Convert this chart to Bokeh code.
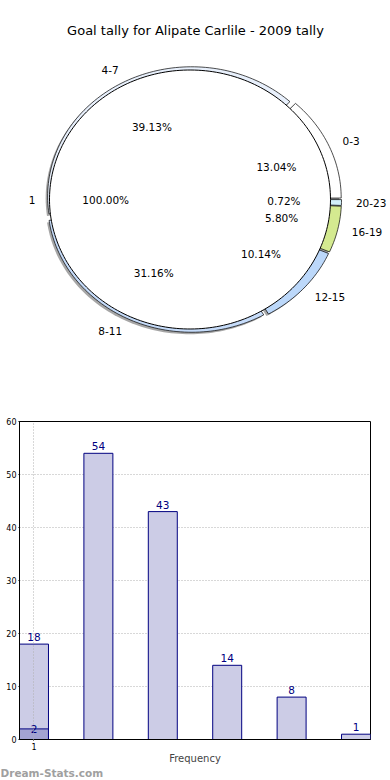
import math
from bokeh.plotting import figure
from bokeh.models import Range1d, FixedTicker
from bokeh.embed import file_html
from bokeh.resources import INLINE
from bokeh.core.properties import value

# ---------------- data ----------------
title_text = "Goal tally for Alipate Carlile - 2009 tally"
outer_labels = ["0-3", "4-7", "8-11", "12-15", "16-19", "20-23"]
outer_values = [18, 54, 43, 14, 8, 1]
outer_colors = ["#ffffff", "#e8f0fc", "#c6dcfa", "#bcd8fa", "#d4ea90", "#d2f0fa"]
inner_labels = ["1"]
inner_values = [138]
inner_colors = ["#ffffff"]

bar_x = [1, 2, 3, 4, 5, 6]
bar_values = [18, 54, 43, 14, 8, 1]
overlay_x = [1]
overlay_values = [2]
y_ticks = [0, 10, 20, 30, 40, 50, 60]
x_ticks = [1]
x_tick_labels = {1: "1"}
x_axis_label = "Frequency"
watermark = "Dream-Stats.com"

FONT = "DejaVu Sans"
W = 390
PIE_H = 400
BAR_H = 366
WM_H = 14

# ---------------- pie figure (pixel-like coordinates, y downwards) ----------------
pie = figure(width=W, height=PIE_H, x_range=Range1d(0, W), y_range=Range1d(PIE_H, 0),
             output_backend="svg", toolbar_location=None, min_border=0,
             x_axis_location=None, y_axis_location=None)
pie.grid.visible = False
pie.outline_line_color = None


def arc(cx, cy, rx, ry, a0, a1):
    n = max(3, int(abs(a1 - a0) / 1.5) + 2)
    xs, ys = [], []
    for i in range(n):
        a = math.radians(a0 + (a1 - a0) * i / (n - 1))
        xs.append(cx + rx * math.cos(a))
        ys.append(cy - ry * math.sin(a))
    return xs, ys


# outer ring geometry
ocx, ocy, orx, ory = 193.0, 199.0, 144.0, 129.5
explode = 0.028
total = sum(outer_values)

wxs, wys, sxs, sys_ = [], [], [], []
label_pos, pct_pos = [], []
start = 0.0
for v in outer_values:
    sweep = 360.0 * v / total
    mid = start + sweep / 2
    m = math.radians(mid)
    ex = ocx + explode * orx * math.cos(m)
    ey = ocy - explode * ory * math.sin(m)
    ax, ay = arc(ex, ey, orx, ory, start, start + sweep)
    xs = [ex] + ax + [ex]
    ys = [ey] + ay + [ey]
    wxs.append(xs)
    wys.append(ys)
    sxs.append([x - 2 for x in xs])
    sys_.append([y + 2 for y in ys])
    lx = ex + 1.1 * orx * math.cos(m)
    ly = ey - 1.1 * ory * math.sin(m)
    label_pos.append((lx, ly, "left" if math.cos(m) >= 0 else "right"))
    pct_pos.append((ex + 0.6 * orx * math.cos(m), ey - 0.6 * ory * math.sin(m)))
    start += sweep

pie.patches(sxs, sys_, fill_color="#000000", fill_alpha=0.35, line_color=None)
pie.patches(wxs, wys, fill_color=outer_colors, line_color="black", line_width=0.7)

# inner pie
icx, icy, irx, iry = 189.5, 199.0, 140.5, 129.5
itotal = sum(inner_values)
ixs, iys = [], []
ilabel, ipct = [], []
start = 0.0
for v in inner_values:
    sweep = 360.0 * v / itotal
    mid = math.radians(start + sweep / 2)
    ax, ay = arc(icx, icy, irx, iry, start, start + sweep)
    if sweep < 360:
        ax = [icx] + ax + [icx]
        ay = [icy] + ay + [icy]
    ixs.append(ax)
    iys.append(ay)
    ilabel.append((icx + 1.1 * irx * math.cos(mid), icy - 1.1 * iry * math.sin(mid),
                   "left" if math.cos(mid) >= 0 else "right"))
    ipct.append((icx + 0.6 * irx * math.cos(mid), icy - 0.6 * iry * math.sin(mid)))
    start += sweep
pie.patches(ixs, iys, fill_color=inner_colors, line_color="black", line_width=1)

# labels
for (lx, ly, al), t in zip(label_pos + ilabel, outer_labels + inner_labels):
    pie.text(x=[lx], y=[ly], text=[t], text_align=al, text_baseline="middle",
             text_font=value(FONT), text_font_size="10.5px", text_color="black")
pct_texts = ["%.2f%%" % (v * 100.0 / total) for v in outer_values] + \
            ["%.2f%%" % (v * 100.0 / itotal) for v in inner_values]
pie.text(x=[p[0] for p in pct_pos + ipct], y=[p[1] for p in pct_pos + ipct], text=pct_texts,
         text_align="center", text_baseline="middle",
         text_font=value(FONT), text_font_size="10.5px", text_color="black")
pie.text(x=[195], y=[30], text=[title_text], text_align="center", text_baseline="middle",
         text_font=value(FONT), text_font_size="13px", text_color="black")

# ---------------- bar figure ----------------
bar = figure(width=W, height=BAR_H, x_range=Range1d(0.775, 6.225), y_range=Range1d(0, 60),
             output_backend="svg", toolbar_location=None,
             min_border_left=19, min_border_right=20, min_border_top=21, min_border_bottom=26)
bar.vbar(x=bar_x, top=bar_values, width=0.45, fill_color="#ccccE6", line_color="#000080", line_width=1)
bar.vbar(x=overlay_x, top=overlay_values, width=0.45, fill_color="#000080", fill_alpha=0.2,
         line_color="#000080", line_width=1)
bar.text(x=bar_x, y=bar_values, text=[str(v) for v in bar_values], text_align="center",
         text_baseline="bottom", y_offset=-3, text_font=value(FONT), text_font_size="10.5px",
         text_color="#000080")
bar.text(x=overlay_x, y=overlay_values, text=[str(v) for v in overlay_values], text_align="center",
         text_baseline="middle", text_font=value(FONT), text_font_size="10.5px", text_color="#000080")

bar.outline_line_color = "black"
bar.outline_line_width = 1
bar.xaxis.ticker = FixedTicker(ticks=x_ticks)
bar.xaxis.major_label_overrides = x_tick_labels
bar.yaxis.ticker = FixedTicker(ticks=y_ticks)
for ax in (bar.xaxis[0], bar.yaxis[0]):
    ax.axis_line_color = "black"
    ax.major_tick_in = 0
    ax.major_tick_out = 1
    ax.minor_tick_in = 0
    ax.minor_tick_out = 0
    ax.major_label_text_font = FONT
    ax.major_label_text_font_size = "8px"
    ax.major_label_text_color = "black"
    ax.major_label_standoff = 2
bar.xaxis.axis_label = x_axis_label
bar.xaxis.axis_label_text_font = FONT
bar.xaxis.axis_label_text_font_size = "10px"
bar.xaxis.axis_label_text_font_style = "normal"
bar.xaxis.axis_label_standoff = 0
bar.ygrid.grid_line_color = "#b0b0b0"
bar.ygrid.grid_line_dash = "1 2"
bar.xgrid.grid_line_color = "#b0b0b0"
bar.xgrid.grid_line_dash = "1 2"
bar.xgrid.level = "overlay"

# ---------------- watermark strip ----------------
wm = figure(width=W, height=WM_H, x_range=Range1d(0, W), y_range=Range1d(14, 0),
            output_backend="svg", toolbar_location=None, min_border=0,
            x_axis_location=None, y_axis_location=None)
wm.grid.visible = False
wm.outline_line_color = None
wm.text(x=[0], y=[6], text=[watermark], text_align="left", text_baseline="middle",
        text_font=value(FONT), text_font_size="10.5px", text_font_style="bold", text_color="#a0a0a0")

open("out.html", "w").write(file_html([pie, bar, wm], INLINE))
